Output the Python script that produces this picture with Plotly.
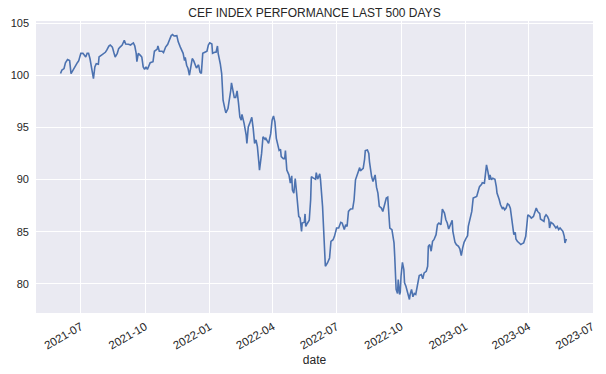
import pandas as pd
import plotly.graph_objects as go

# Index level; x given as days since 2021-07-01
day_offsets = [
    -29, -27, -24, -22, -19, -16, -14, -12, -9, -5, -3, 0, 3, 7, 9, 11, 13, 16, 18, 20,
    22, 25, 26, 29, 33, 35, 37, 40, 42, 45, 47, 49, 52, 54, 56, 59, 62, 64, 68, 71,
    73, 75, 77, 79, 80, 82, 85, 87, 89, 91, 93, 95,
    99, 103, 105, 109, 110, 112, 116, 118, 121, 124, 126, 129, 131, 133, 137, 139, 142, 144,
    146, 148, 149, 151, 153, 155, 156, 159, 161, 163, 165, 168, 170, 172, 174, 177, 180, 182,
    184, 187, 188, 191, 193, 195, 196, 199, 201, 202, 203, 206, 207, 210, 212, 214, 215, 217,
    219, 221, 223, 225, 227, 229, 230, 233, 236, 237, 239, 241,
    244, 246, 248, 250, 252, 254, 255, 258, 260, 263, 264, 266, 268, 271, 273, 275, 277, 279,
    281, 283, 285, 286, 289, 291, 292, 294, 297, 299, 301, 302, 304, 306, 308, 309, 311, 313,
    315, 316, 319, 320, 321, 323, 326, 328, 329, 332, 335, 336, 338, 341, 342, 345, 347, 348,
    349, 352, 355, 357, 360, 362, 365, 368,
    371, 373, 376, 378, 380, 382, 385, 388, 390, 392, 394, 396, 398, 399, 402, 403, 405, 406,
    409, 411, 412, 413, 415, 417, 418, 420, 422, 424, 426, 429, 431, 433, 436, 438, 439, 441,
    444, 445, 447, 448, 449, 450, 452, 453, 455, 456, 457, 459, 461, 462, 464, 466, 469, 470,
    472, 474, 476, 478, 481, 483, 486, 488, 490, 493, 495, 496, 498, 500, 502, 504,
    507, 509, 511, 514, 516, 519, 521, 523, 525, 527, 530, 531, 534, 536, 539, 541, 543, 545,
    547, 550, 552, 553, 555, 558, 560, 562, 565, 567, 569, 572, 573, 576, 577, 579, 581, 583,
    584, 586, 588, 591, 593, 594, 597,
    599, 602, 603, 605, 607, 609, 611, 613, 615, 617, 618, 620, 621, 623, 625, 628, 630, 632,
    635, 637, 638, 641, 643, 646, 648, 650, 652, 655, 656, 658, 661, 662, 664, 666, 668, 669,
    671, 674, 676, 678, 680, 682, 684, 686, 688, 690, 691, 693,
]
index_values = [
    100.16, 100.5, 100.64, 101.2, 101.5, 101.4, 100.16, 100.4, 100.86, 101.2, 101.4, 102.1, 102.1, 101.75, 102.1, 102.1, 101.6, 100.64, 99.68, 100.8,
    101.1, 101.05, 101.75, 101.9, 102.1, 102.2, 102.4, 102.8, 102.9, 102.7, 102.2, 101.75, 102.1, 102.55, 102.7, 102.9, 103.35, 103.0, 102.97, 102.9,
    103.0, 103.1, 102.8, 102.1, 101.3, 102.1, 101.9, 101.75, 100.8, 100.55, 100.8, 100.55,
    101.2, 101.3, 102.3, 102.5, 102.8, 102.3, 102.3, 102.17, 102.7, 102.97, 103.3, 103.8, 103.9, 103.76, 103.8, 103.2, 102.7, 102.4,
    102.1, 101.4, 101.7, 100.96, 100.64, 100.0, 100.5, 101.6, 101.4, 100.96, 100.7, 101.0, 100.3, 100.16, 102.1, 102.2, 102.3, 102.9,
    103.1, 103.0, 102.1, 102.2, 102.2, 102.8, 102.1, 101.1, 100.16, 98.9, 97.6, 96.65, 96.4, 96.8, 97.6, 98.56, 99.26, 98.4,
    97.86, 97.86, 98.5, 97.35, 96.0, 95.7, 96.24, 95.38, 94.26, 93.46, 95.05, 95.38,
    95.96, 94.9, 93.47, 93.8, 93.15, 91.7, 90.9, 92.5, 94.1, 93.85, 93.95, 93.7, 93.47, 94.4, 95.7, 96.1, 95.5, 93.95,
    93.47, 92.8, 92.9, 92.2, 92.0, 92.0, 92.77, 90.9, 90.45, 89.65, 90.35, 89.0, 88.7, 90.1, 88.7, 87.6, 86.47, 86.3,
    85.03, 85.83, 85.9, 86.7, 85.5, 85.76, 86.1, 88.06, 90.27, 90.13, 90.03, 90.66, 90.03, 90.54, 90.03, 87.42, 84.87, 84.23,
    81.68, 82.0, 82.48, 84.07, 84.23, 84.55, 85.35, 85.35,
    85.9, 85.83, 85.2, 85.67, 85.5, 86.94, 87.17, 87.2, 88.06, 89.97, 90.44, 90.76, 91.14, 90.83, 90.99, 91.08, 91.94, 92.77,
    92.83, 92.5, 91.7, 91.08, 90.28, 89.8, 90.13, 90.44, 89.27, 88.7, 87.42, 87.26, 86.94, 87.42, 88.22, 88.31, 86.94, 85.35,
    85.19, 84.71, 83.92, 82.64, 80.73, 79.46, 79.07, 80.41, 78.98, 79.2, 80.73, 82.06, 81.37, 80.1, 79.77, 79.3, 78.5, 78.98,
    79.46, 78.76, 79.07, 78.98, 80.1, 80.79, 80.89, 80.48, 81.05, 81.2, 81.68, 83.6, 83.76, 83.12, 84.07, 84.23,
    84.71, 85.67, 85.83, 85.67, 87.17, 86.78, 86.14, 85.83, 85.26, 85.67, 86.08, 85.03, 83.98, 83.76, 83.6, 83.34, 82.7, 83.44,
    83.98, 84.39, 84.61, 85.5, 86.14, 86.94, 88.22, 88.31, 88.37, 88.85, 89.32, 89.55, 89.7, 89.65, 90.28, 91.4, 90.76, 89.97,
    90.44, 89.97, 90.13, 90.03, 89.32, 88.7, 88.1,
    87.58, 87.17, 87.36, 87.1, 87.26, 87.67, 87.58, 87.26, 86.14, 85.03, 84.71, 84.93, 84.3, 84.07, 83.92, 83.76, 83.85, 83.92,
    84.55, 86.21, 86.62, 86.46, 86.3, 86.46, 86.94, 87.26, 86.94, 86.72, 86.21, 86.14, 85.99, 86.4, 86.62, 86.46, 86.14, 85.35,
    85.9, 85.76, 85.57, 85.35, 85.5, 85.2, 85.35, 85.2, 85.03, 84.55, 83.92, 84.3,
]
y_ticks = [80, 85, 90, 95, 100, 105]
title_text = "CEF INDEX PERFORMANCE LAST 500 DAYS"
x_title = "date"

dates = pd.Timestamp("2021-07-01") + pd.to_timedelta(day_offsets, unit="D")

FONT = "Liberation Sans, Arial, sans-serif"
TEXT = "#262626"

fig = go.Figure()
fig.add_trace(go.Scatter(
    x=dates, y=index_values, mode="lines",
    line=dict(color="#4C72B0", width=1.6),
    showlegend=False, hoverinfo="skip",
))

fig.update_layout(
    width=606, height=374,
    paper_bgcolor="white", plot_bgcolor="#EAEAF2",
    margin=dict(l=36, r=13, t=21, b=61, autoexpand=False),
    font=dict(family=FONT, color=TEXT, size=11),
    title=dict(text=title_text, x=0.5, xref="paper", xanchor="center",
               y=1 - 12.5 / 374, yref="container", yanchor="middle",
               font=dict(size=12, color=TEXT, family=FONT)),
    showlegend=False,
)
fig.update_xaxes(
    type="date", range=["2021-04-28", "2023-07-02"],
    tick0="2021-07-01", dtick="M3", tickformat="%Y-%m", tickangle=-30,
    showgrid=True, gridcolor="white", gridwidth=1.1,
    showline=False, zeroline=False, ticks="", ticklabelstandoff=4,
    tickfont=dict(size=11.5, color=TEXT),
    title=dict(text=x_title, font=dict(size=12, color=TEXT), standoff=5),
)
fig.update_yaxes(
    range=[77.2, 105.2], tickvals=y_ticks,
    showgrid=True, gridcolor="white", gridwidth=1.1,
    showline=False, zeroline=False, ticks="", ticklabelstandoff=6,
    tickfont=dict(size=11, color=TEXT),
)

fig.write_html(
    "out.html",
    config={"displayModeBar": False},
    post_script="document.body.style.margin='0';document.body.style.overflow='hidden';",
)
